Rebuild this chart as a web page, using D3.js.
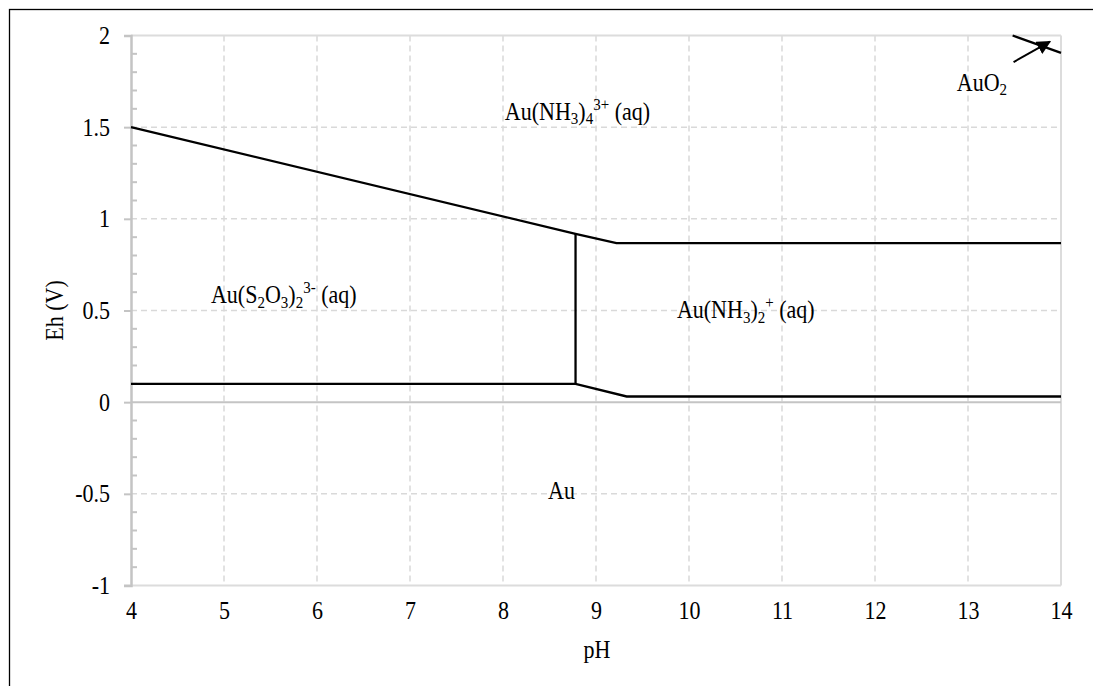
<!DOCTYPE html>
<html>
<head>
<meta charset="utf-8">
<script src="https://cdn.jsdelivr.net/npm/d3@7"></script>
<style>
  body { margin: 0; background: #fff; }
  svg text { font-family: "Liberation Serif", "Times New Roman", serif; fill: #000; }
</style>
</head>
<body>
<svg id="chart" width="1093" height="686"></svg>
<script>
// ---- data ----
const xTicks = [4, 5, 6, 7, 8, 9, 10, 11, 12, 13, 14];
const yTicks = [-1, -0.5, 0, 0.5, 1, 1.5, 2];
const yTickLabels = ["-1", "-0.5", "0", "0.5", "1", "1.5", "2"];
// boundary lines [pH, Eh]
const upperBoundary = [[4, 1.5], [8.78, 0.918], [9.22, 0.868], [14, 0.868]];
const lowerBoundary = [[4, 0.1], [8.78, 0.1], [9.33, 0.031], [14, 0.031]];
const verticalBoundary = [[8.78, 0.1], [8.78, 0.918]];
const auo2Boundary = [[13.48, 2.0], [14, 1.905]];
const auo2Arrow = [[13.49, 1.855], [13.88, 1.966]];
// region labels: [pH, Eh, parts]  (0 normal, -1 subscript, 1 superscript)
const labels = [
  { x: 8.02, y: 1.54, parts: [["Au(NH", 0], ["3", -1], [")", 0], ["4", -1], ["3+", 1], [" (aq)", 0]] },
  { x: 4.86, y: 0.54, parts: [["Au(S", 0], ["2", -1], ["O", 0], ["3", -1], [")", 0], ["2", -1], ["3-", 1], [" (aq)", 0]] },
  { x: 9.87, y: 0.457, parts: [["Au(NH", 0], ["3", -1], [")", 0], ["2", -1], ["+", 1], [" (aq)", 0]] },
  { x: 8.485, y: -0.529, parts: [["Au", 0]] },
  { x: 12.88, y: 1.70, parts: [["AuO", 0], ["2", -1]] }
];

// ---- layout ----
const svg = d3.select("#chart");
const x = d3.scaleLinear().domain([4, 14]).range([131, 1061]);
const y = d3.scaleLinear().domain([-1, 2]).range([585.5, 35.5]);
const gridColor = "#d9d9d9";
const axisColor = "#c4c4c4";
const SY = 1.13; // vertical text stretch seen in the reference
const FS = "22px";

// outer frame
svg.append("rect").attr("x", 9.5).attr("y", 9.5).attr("width", 1200).attr("height", 800)
  .attr("fill", "none").attr("stroke", "#000").attr("stroke-width", 1.3);

// gridlines
svg.append("g").selectAll("line").data(xTicks.slice(1, -1)).join("line")
  .attr("x1", d => x(d)).attr("x2", d => x(d)).attr("y1", y(2)).attr("y2", y(-1))
  .attr("stroke", gridColor).attr("stroke-width", 1.5).attr("stroke-dasharray", "6,4");
svg.append("g").selectAll("line").data(yTicks.filter(d => d !== 0 && d !== -1 && d !== 2)).join("line")
  .attr("x1", x(4)).attr("x2", x(14)).attr("y1", d => y(d)).attr("y2", d => y(d))
  .attr("stroke", gridColor).attr("stroke-width", 1.5).attr("stroke-dasharray", "6,4");

// plot border (top, right, bottom)
svg.append("line").attr("x1", x(4)).attr("x2", x(14)).attr("y1", y(2)).attr("y2", y(2))
  .attr("stroke", "#dcdcdc").attr("stroke-width", 2);
svg.append("line").attr("x1", x(14)).attr("x2", x(14)).attr("y1", y(2)).attr("y2", y(-1))
  .attr("stroke", "#dcdcdc").attr("stroke-width", 2);
svg.append("line").attr("x1", x(4) - 7).attr("x2", x(14)).attr("y1", y(-1)).attr("y2", y(-1))
  .attr("stroke", "#dcdcdc").attr("stroke-width", 2);
// zero line
svg.append("line").attr("x1", x(4)).attr("x2", x(14)).attr("y1", y(0)).attr("y2", y(0))
  .attr("stroke", axisColor).attr("stroke-width", 2);

// y axis with D3
const yAxis = d3.axisLeft(y).tickValues(yTicks).tickSize(7).tickPadding(14)
  .tickFormat((d, i) => yTickLabels[i]);
const gy = svg.append("g").attr("transform", `translate(${x(4)},0)`).call(yAxis);
gy.select(".domain").attr("stroke", axisColor).attr("stroke-width", 2.5);
gy.selectAll(".tick line").attr("stroke", axisColor).attr("stroke-width", 2);
gy.selectAll(".tick text").style("font-family", '"Liberation Serif", serif').style("font-size", FS)
  .attr("fill", "#000").attr("transform", `scale(1,${SY})`);
// minor ticks inside
const minor = d3.range(-10, 21).map(d => d / 10).filter(d => Math.abs(d * 2 - Math.round(d * 2)) > 1e-6);
svg.append("g").selectAll("line").data(minor).join("line")
  .attr("x1", x(4)).attr("x2", x(4) + 6).attr("y1", d => y(d)).attr("y2", d => y(d))
  .attr("stroke", axisColor).attr("stroke-width", 2);

// x axis labels
const xAxis = d3.axisBottom(x).tickValues(xTicks).tickSize(0).tickPadding(14).tickFormat(d3.format("d"));
const gx = svg.append("g").attr("transform", `translate(0,${y(-1)})`).call(xAxis);
gx.select(".domain").remove();
gx.selectAll(".tick text").style("font-family", '"Liberation Serif", serif').style("font-size", FS)
  .attr("fill", "#000").attr("transform", `scale(1,${SY})`);

// axis titles
svg.append("text").attr("transform", `translate(597,658) scale(1,${SY})`).attr("text-anchor", "middle")
  .style("font-size", FS).text("pH");
svg.append("text").attr("transform", `translate(63,${(y(2) + y(-1)) / 2}) rotate(-90) scale(1,${SY})`)
  .attr("text-anchor", "middle").style("font-size", FS).text("Eh (V)");

// boundary lines
const line = d3.line().x(d => x(d[0])).y(d => y(d[1]));
[upperBoundary, lowerBoundary, verticalBoundary, auo2Boundary].forEach(pts => {
  svg.append("path").attr("d", line(pts)).attr("fill", "none")
    .attr("stroke", "#000").attr("stroke-width", 2.3).attr("stroke-linejoin", "miter");
});

// arrow
svg.append("defs").append("marker").attr("id", "arrow")
  .attr("viewBox", "0 0 10 10").attr("refX", 9).attr("refY", 5)
  .attr("markerWidth", 7).attr("markerHeight", 7).attr("orient", "auto")
  .append("path").attr("d", "M0,0 L10,5 L0,10 z").attr("fill", "#000");
svg.append("path").attr("d", line(auo2Arrow)).attr("fill", "none")
  .attr("stroke", "#000").attr("stroke-width", 2).attr("marker-end", "url(#arrow)");

// region labels
labels.forEach(l => {
  const t = svg.append("text")
    .attr("transform", `translate(${x(l.x)},${y(l.y)}) scale(1,${SY})`)
    .style("font-size", FS);
  let cur = 0;
  l.parts.forEach(([s, k]) => {
    const ts = t.append("tspan").text(s);
    const target = k === -1 ? 4 : (k === 1 ? -9 : 0);
    if (k !== 0) ts.style("font-size", "15px");
    ts.attr("dy", target - cur);
    cur = target;
  });
});
</script>
</body>
</html>
